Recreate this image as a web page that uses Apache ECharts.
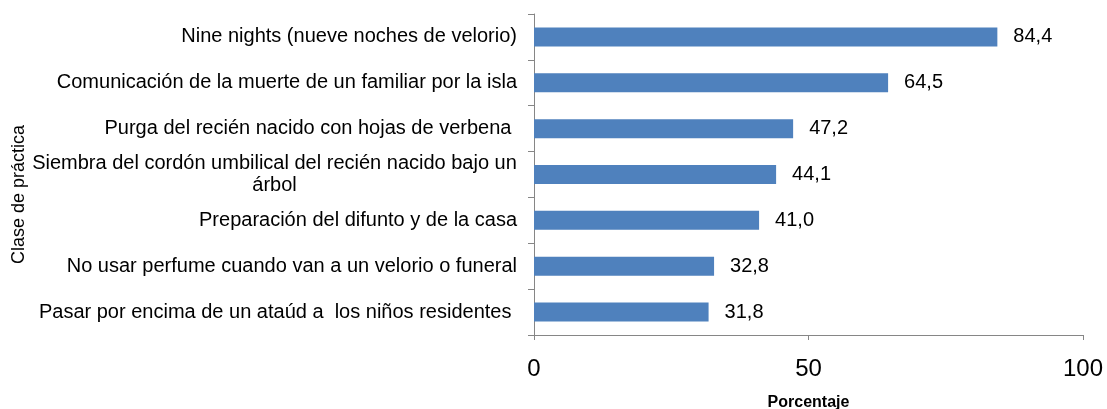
<!DOCTYPE html>
<html>
<head>
<meta charset="utf-8">
<script src="https://cdn.jsdelivr.net/npm/echarts@6/dist/echarts.min.js"></script>
<style>
  html, body { margin: 0; padding: 0; background: #fff; }
  #chart { width: 1107px; height: 409px; }
</style>
</head>
<body>
<div id="chart"></div>
<script>
// Practices, listed top to bottom
const categories = [
  'Nine nights (nueve noches de velorio)',
  'Comunicación de la muerte de un familiar por la isla',
  'Purga del recién nacido con hojas de verbena ',
  'Siembra del cordón umbilical del recién nacido bajo un\nárbol',
  'Preparación del difunto y de la casa',
  'No usar perfume cuando van a un velorio o funeral',
  'Pasar por encima de un ataúd a  los niños residentes '
];
// Percentage of respondents for each practice
const percentages = [84.4, 64.5, 47.2, 44.1, 41.0, 32.8, 31.8];
const xTicks = [0, 50, 100];

const FONT = 'Liberation Sans, Arial, sans-serif';
const LABEL_SIZE = 20;

// width of a text line, used to center wrapped category lines
const ctx = document.createElement('canvas').getContext('2d');
ctx.font = LABEL_SIZE + 'px ' + FONT;
function textWidth(s) { return Math.ceil(ctx.measureText(s).width); }
const wrapWidth = Math.max.apply(null,
  categories.filter(c => c.indexOf('\n') >= 0)
    .map(c => Math.max.apply(null, c.split('\n').map(textWidth))));

const chart = echarts.init(document.getElementById('chart'));
chart.setOption({
  animation: false,
  grid: { left: 534, right: 24, top: 14, bottom: 74, containLabel: false, outerBoundsMode: 'none' },
  xAxis: {
    type: 'value',
    min: xTicks[0],
    max: xTicks[xTicks.length - 1],
    interval: xTicks[1] - xTicks[0],
    splitLine: { show: false },
    axisLine: { show: true, lineStyle: { color: '#868686', width: 1 } },
    axisTick: { show: true, length: 5, lineStyle: { color: '#868686' } },
    axisLabel: { fontFamily: FONT, fontSize: 24, color: '#000', margin: 22 },
    name: 'Porcentaje',
    nameLocation: 'middle',
    nameGap: 60,
    nameTextStyle: { fontFamily: FONT, fontSize: 16, fontWeight: 'bold', color: '#000' }
  },
  yAxis: {
    type: 'category',
    inverse: true,
    data: categories,
    axisLine: { show: true, lineStyle: { color: '#868686', width: 1 } },
    axisTick: { show: true, length: 6, lineStyle: { color: '#868686' } },
    axisLabel: {
      fontFamily: FONT, fontSize: LABEL_SIZE, color: '#000', margin: 17,
      formatter: function (v) {
        if (v.indexOf('\n') < 0) return v;
        return v.split('\n').map(l => '{c|' + l + '}').join('\n');
      },
      rich: {
        c: { fontFamily: FONT, fontSize: LABEL_SIZE, color: '#000', align: 'center', width: wrapWidth, lineHeight: 22 }
      }
    }
  },
  graphic: [{
    type: 'text',
    left: 10,
    top: 125,
    rotation: Math.PI / 2,
    style: { text: 'Clase de práctica', font: '18px ' + FONT, fill: '#000' }
  }],
  series: [{
    type: 'bar',
    data: percentages,
    barWidth: 19,
    itemStyle: { color: '#4F81BD' },
    label: {
      show: true,
      position: 'right',
      distance: 16,
      fontFamily: FONT,
      fontSize: 20,
      color: '#000',
      formatter: p => p.value.toFixed(1).replace('.', ',')
    }
  }]
});
</script>
</body>
</html>
